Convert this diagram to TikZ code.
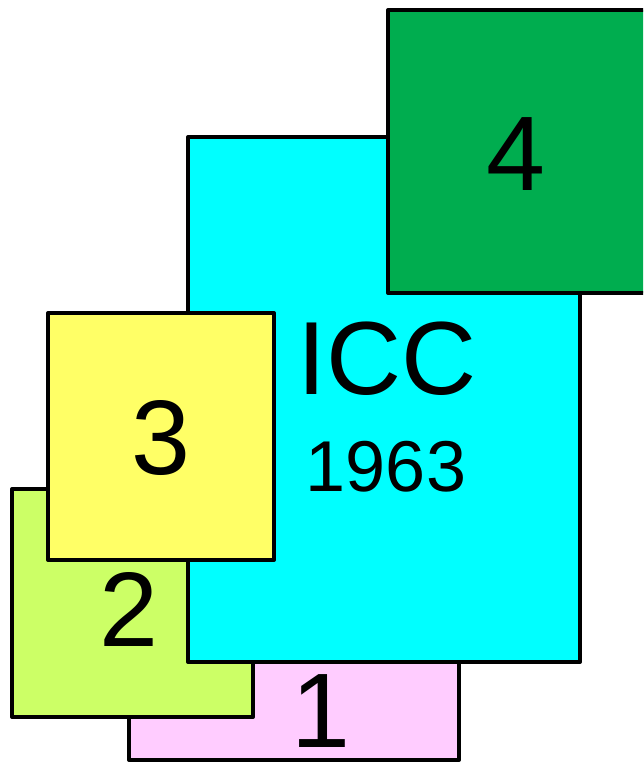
\documentclass[tikz,border=0pt]{standalone}
\usepackage{fontspec}
\setmainfont{Liberation Sans}
\definecolor{pinkbox}{HTML}{FFCCFF}
\definecolor{limebox}{HTML}{CCFF66}
\definecolor{cyanbox}{HTML}{00FFFF}
\definecolor{yellowbox}{HTML}{FFFF66}
\definecolor{greenbox}{HTML}{00AD4F}
\begin{document}
\begin{tikzpicture}[x=1pt,y=-1pt,
  card/.style={draw=black, line width=4pt, rectangle, inner sep=0pt, line join=round},
  bignum/.style={inner sep=0pt, font=\fontsize{106}{106}\selectfont},
  icctext/.style={inner sep=0pt, font=\fontsize{104}{104}\selectfont},
  year/.style={inner sep=0pt, font=\fontsize{72}{72}\selectfont}]
\useasboundingbox (0,0) rectangle (643,763);
\clip (0,0) rectangle (643,763);
\node[card, fill=pinkbox, minimum width=330pt, minimum height=120pt] (r1) at (294,700) {};
\node[card, fill=limebox, minimum width=241pt, minimum height=228pt] (r2) at (132.5,603) {};
\node[card, fill=cyanbox, minimum width=392pt, minimum height=525pt] (r0) at (384,399.5) {};
\node[card, fill=yellowbox, minimum width=226pt, minimum height=247pt] (r3) at (161,436.5) {};
\node[card, fill=greenbox, minimum width=280pt, minimum height=283pt] (r4) at (528,151.5) {};
\node[bignum] (t1) at (321,711) {1};
\node[bignum] (t2) at (129,609) {2};
\node[bignum] (t3) at (161,438.5) {3};
\node[bignum] (t4) at (516,154) {4};
\node[icctext] (icc) at (387,358.5) {ICC};
\node[year] (yr) at (386,466.5) {1963};
\end{tikzpicture}
\end{document}
